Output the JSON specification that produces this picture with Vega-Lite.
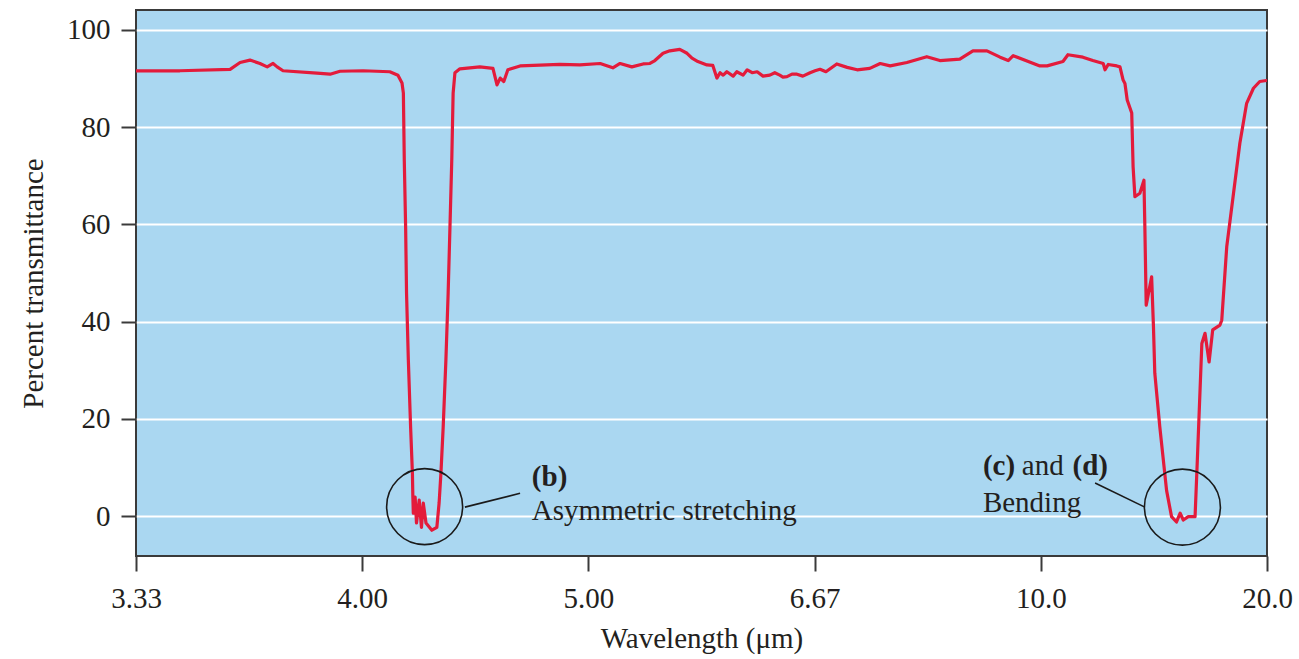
{
  "$schema": "https://vega.github.io/schema/vega-lite/v6.json",
  "width": 1131,
  "height": 546,
  "autosize": {"type": "none"},
  "padding": {"left": 136, "top": 10, "right": 32, "bottom": 103},
  "background": "#ffffff",
  "config": {
    "view": {"fill": "#aad7f1", "stroke": "#3a3a3a", "strokeWidth": 2},
    "font": "Liberation Serif",
    "axis": {
      "domain": false,
      "tickColor": "#3a3a3a",
      "tickWidth": 2,
      "tickSize": 15,
      "labelFont": "Liberation Serif",
      "labelFontSize": 29,
      "labelColor": "#231f20",
      "titleFont": "Liberation Serif",
      "titleFontSize": 29,
      "titleFontWeight": "normal",
      "titleColor": "#231f20"
    }
  },
  "datasets": {
    "spectrum": [
      {"wn": 3000, "t": 91.6}, {"wn": 2903, "t": 91.6}, {"wn": 2792, "t": 91.9}, {"wn": 2770, "t": 93.3},
      {"wn": 2748, "t": 93.8}, {"wn": 2726, "t": 93.1}, {"wn": 2710, "t": 92.4}, {"wn": 2697, "t": 93.1},
      {"wn": 2688, "t": 92.4}, {"wn": 2675, "t": 91.6}, {"wn": 2600, "t": 91.1}, {"wn": 2571, "t": 90.9},
      {"wn": 2549, "t": 91.5}, {"wn": 2498, "t": 91.6}, {"wn": 2439, "t": 91.4}, {"wn": 2421, "t": 90.7},
      {"wn": 2412, "t": 89.1}, {"wn": 2409, "t": 87.0}, {"wn": 2407, "t": 73.3}, {"wn": 2404, "t": 59.5},
      {"wn": 2402, "t": 45.9}, {"wn": 2398, "t": 32.1}, {"wn": 2393, "t": 18.3}, {"wn": 2389, "t": 8.8},
      {"wn": 2388, "t": 3.9}, {"wn": 2387, "t": 0.6}, {"wn": 2383, "t": 3.9}, {"wn": 2380, "t": -1.4},
      {"wn": 2374, "t": 3.3}, {"wn": 2369, "t": -2.3}, {"wn": 2365, "t": 2.7}, {"wn": 2359, "t": -1.4},
      {"wn": 2346, "t": -2.9}, {"wn": 2335, "t": -2.3}, {"wn": 2330, "t": 2.7}, {"wn": 2326, "t": 8.8},
      {"wn": 2321, "t": 18.3}, {"wn": 2315, "t": 32.1}, {"wn": 2310, "t": 45.9}, {"wn": 2306, "t": 59.5},
      {"wn": 2302, "t": 73.3}, {"wn": 2299, "t": 87.0}, {"wn": 2295, "t": 91.2}, {"wn": 2284, "t": 92.0},
      {"wn": 2240, "t": 92.4}, {"wn": 2211, "t": 92.1}, {"wn": 2202, "t": 88.7}, {"wn": 2195, "t": 90.1},
      {"wn": 2187, "t": 89.4}, {"wn": 2178, "t": 91.8}, {"wn": 2151, "t": 92.6}, {"wn": 2063, "t": 92.9},
      {"wn": 2019, "t": 92.8}, {"wn": 1974, "t": 93.1}, {"wn": 1946, "t": 92.2}, {"wn": 1930, "t": 93.1},
      {"wn": 1904, "t": 92.4}, {"wn": 1879, "t": 93.0}, {"wn": 1864, "t": 93.1}, {"wn": 1853, "t": 93.7},
      {"wn": 1835, "t": 95.2}, {"wn": 1820, "t": 95.7}, {"wn": 1798, "t": 96.0}, {"wn": 1782, "t": 95.2},
      {"wn": 1771, "t": 94.2}, {"wn": 1758, "t": 93.5}, {"wn": 1738, "t": 92.8}, {"wn": 1725, "t": 92.7},
      {"wn": 1716, "t": 90.1}, {"wn": 1709, "t": 91.2}, {"wn": 1702, "t": 90.7}, {"wn": 1694, "t": 91.4},
      {"wn": 1680, "t": 90.5}, {"wn": 1672, "t": 91.4}, {"wn": 1658, "t": 90.7}, {"wn": 1649, "t": 91.8},
      {"wn": 1638, "t": 91.2}, {"wn": 1627, "t": 91.4}, {"wn": 1614, "t": 90.5}, {"wn": 1599, "t": 90.7},
      {"wn": 1588, "t": 91.2}, {"wn": 1577, "t": 90.7}, {"wn": 1570, "t": 90.3}, {"wn": 1561, "t": 90.4},
      {"wn": 1550, "t": 90.9}, {"wn": 1539, "t": 90.9}, {"wn": 1526, "t": 90.5}, {"wn": 1510, "t": 91.2},
      {"wn": 1499, "t": 91.6}, {"wn": 1488, "t": 91.9}, {"wn": 1475, "t": 91.4}, {"wn": 1451, "t": 93.0},
      {"wn": 1428, "t": 92.3}, {"wn": 1406, "t": 91.8}, {"wn": 1378, "t": 92.1}, {"wn": 1355, "t": 93.1},
      {"wn": 1333, "t": 92.6}, {"wn": 1296, "t": 93.3}, {"wn": 1252, "t": 94.5}, {"wn": 1223, "t": 93.7},
      {"wn": 1179, "t": 94.0}, {"wn": 1150, "t": 95.7}, {"wn": 1119, "t": 95.7}, {"wn": 1090, "t": 94.4},
      {"wn": 1072, "t": 93.7}, {"wn": 1061, "t": 94.7}, {"wn": 1002, "t": 92.6}, {"wn": 986, "t": 92.6},
      {"wn": 951, "t": 93.5}, {"wn": 940, "t": 94.9}, {"wn": 907, "t": 94.4}, {"wn": 885, "t": 93.7},
      {"wn": 862, "t": 93.1}, {"wn": 858, "t": 91.8}, {"wn": 851, "t": 92.9}, {"wn": 832, "t": 92.6},
      {"wn": 825, "t": 92.4}, {"wn": 818, "t": 89.7}, {"wn": 814, "t": 89.0}, {"wn": 809, "t": 85.6},
      {"wn": 799, "t": 82.9}, {"wn": 796, "t": 71.9}, {"wn": 792, "t": 65.7}, {"wn": 781, "t": 66.4},
      {"wn": 772, "t": 69.1}, {"wn": 770, "t": 59.5}, {"wn": 767, "t": 43.4}, {"wn": 755, "t": 49.2},
      {"wn": 751, "t": 39.0}, {"wn": 748, "t": 29.4}, {"wn": 737, "t": 18.4}, {"wn": 722, "t": 5.3},
      {"wn": 711, "t": -0.1}, {"wn": 700, "t": -1.2}, {"wn": 692, "t": 0.6}, {"wn": 685, "t": -0.8},
      {"wn": 674, "t": -0.1}, {"wn": 659, "t": -0.1}, {"wn": 654, "t": 11.5}, {"wn": 644, "t": 35.5},
      {"wn": 637, "t": 37.6}, {"wn": 628, "t": 31.7}, {"wn": 620, "t": 38.3}, {"wn": 604, "t": 39.3},
      {"wn": 600, "t": 40.3}, {"wn": 589, "t": 55.4}, {"wn": 574, "t": 66.4}, {"wn": 560, "t": 76.7},
      {"wn": 545, "t": 84.9}, {"wn": 530, "t": 88.0}, {"wn": 516, "t": 89.4}, {"wn": 501, "t": 89.6},
      {"wn": 500, "t": 89.6}
    ],
    "rings": [
      {"wn": 2362, "t": 1.95},
      {"wn": 687, "t": 1.85}
    ],
    "leaders": [
      {"wn": 2273, "t": 1.85, "wn2": 2151, "t2": 4.7},
      {"wn": 880, "t": 6.8, "wn2": 770, "t2": 1.85}
    ],
    "plainText": [
      {"wn": 2125, "t": -0.8, "label": "Asymmetric stretching"},
      {"wn": 1042, "t": 8.4, "label": "and"},
      {"wn": 1128, "t": 0.9, "label": "Bending"}
    ],
    "boldText": [
      {"wn": 2125, "t": 6.2, "label": "(b)"},
      {"wn": 1128, "t": 8.4, "label": "(c)"},
      {"wn": 930, "t": 8.4, "label": "(d)"}
    ]
  },
  "layer": [
    {
      "data": {"name": "spectrum"},
      "mark": {"type": "line", "color": "#e31b3b", "strokeWidth": 3.2, "strokeCap": "round", "strokeJoin": "round", "clip": true},
      "encoding": {
        "x": {
          "field": "wn",
          "type": "quantitative",
          "scale": {"domain": [500, 3000], "reverse": true, "nice": false, "zero": false},
          "axis": {
            "values": [3000, 2500, 2000, 1500, 1000, 500],
            "labelExpr": "format(10000 / datum.value, '.3r')",
            "grid": false,
            "labelBaseline": "alphabetic",
            "labelPadding": 36,
            "labelFlush": false,
            "labelOverlap": false,
            "title": "Wavelength (μm)",
            "titleBaseline": "alphabetic",
            "titleX": 565.5,
            "titleY": 91,
            "titleAnchor": null
          }
        },
        "y": {
          "field": "t",
          "type": "quantitative",
          "scale": {"domain": [-8.2, 104.1], "nice": false, "zero": false},
          "axis": {
            "values": [0, 20, 40, 60, 80, 100],
            "grid": true,
            "gridColor": "#ffffff",
            "gridWidth": 2,
            "gridOpacity": 1,
            "labelPadding": 11,
            "labelBaseline": "middle",
            "title": "Percent transmittance",
            "titleAngle": -90,
            "titleAlign": "center",
            "titleBaseline": "alphabetic",
            "titleX": -94,
            "titleY": 273
          }
        }
      }
    },
    {
      "data": {"name": "rings"},
      "mark": {"type": "point", "shape": "circle", "size": 5776, "filled": false, "stroke": "#1a1a1a", "strokeWidth": 1.6, "opacity": 1},
      "encoding": {
        "x": {"field": "wn", "type": "quantitative"},
        "y": {"field": "t", "type": "quantitative"}
      }
    },
    {
      "data": {"name": "leaders"},
      "mark": {"type": "rule", "color": "#1a1a1a", "strokeWidth": 1.6},
      "encoding": {
        "x": {"field": "wn", "type": "quantitative"},
        "y": {"field": "t", "type": "quantitative"},
        "x2": {"field": "wn2"},
        "y2": {"field": "t2"}
      }
    },
    {
      "data": {"name": "plainText"},
      "mark": {"type": "text", "align": "left", "baseline": "alphabetic", "font": "Liberation Serif", "fontSize": 29, "color": "#231f20"},
      "encoding": {
        "x": {"field": "wn", "type": "quantitative"},
        "y": {"field": "t", "type": "quantitative"},
        "text": {"field": "label"}
      }
    },
    {
      "data": {"name": "boldText"},
      "mark": {"type": "text", "align": "left", "baseline": "alphabetic", "font": "Liberation Serif", "fontSize": 29, "fontWeight": "bold", "color": "#231f20"},
      "encoding": {
        "x": {"field": "wn", "type": "quantitative"},
        "y": {"field": "t", "type": "quantitative"},
        "text": {"field": "label"}
      }
    }
  ]
}
